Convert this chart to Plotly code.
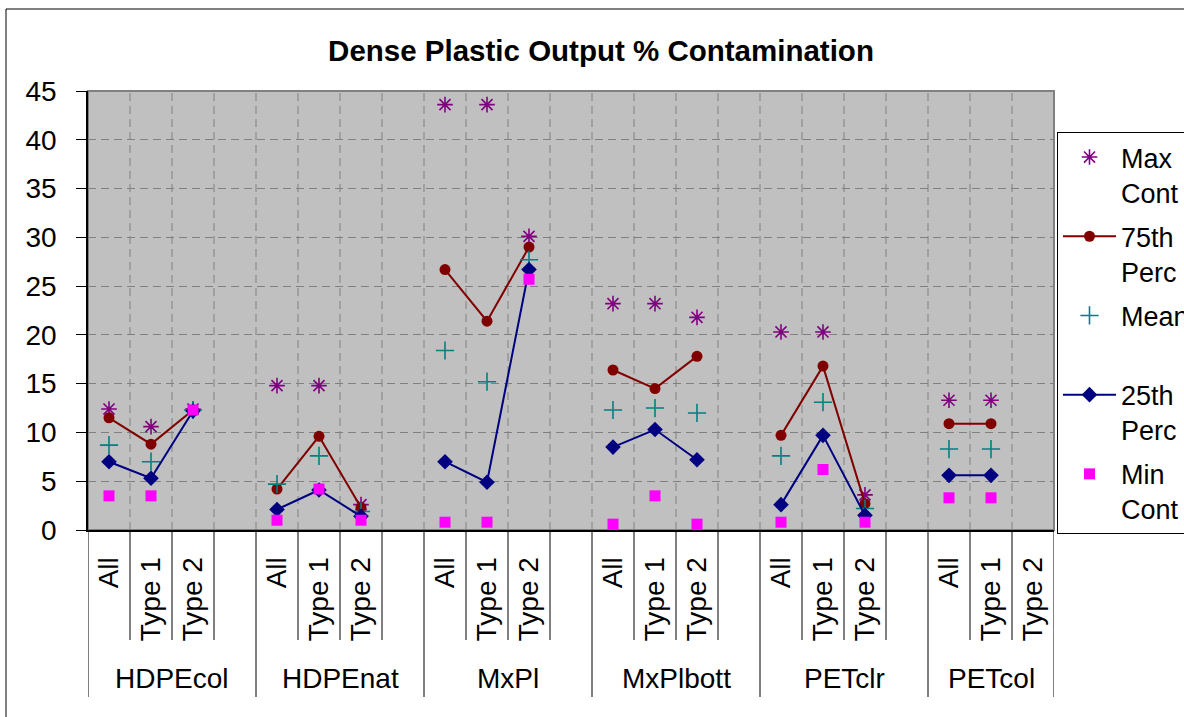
import plotly.graph_objects as go

# ---- data ----
groups = ["HDPEcol", "HDPEnat", "MxPl", "MxPlbott", "PETclr", "PETcol"]
subs = ["All", "Type 1", "Type 2"]

# values per group, in order All, Type 1, Type 2 (None = no data)
max_cont = [[12.4, 10.6, 12.4], [14.8, 14.8, 2.6], [43.6, 43.6, 30.1],
            [23.2, 23.2, 21.8], [20.3, 20.3, 3.6], [13.3, 13.3, None]]
perc75 = [[11.5, 8.8, 12.3], [4.2, 9.6, 2.3], [26.7, 21.4, 29.0],
          [16.4, 14.5, 17.8], [9.7, 16.8, 2.7], [10.9, 10.9, None]]
mean = [[8.7, 7.0, 12.3], [4.7, 7.6, 1.9], [18.4, 15.2, 27.7],
        [12.3, 12.5, 12.0], [7.6, 13.1, 2.2], [8.3, 8.3, None]]
perc25 = [[7.0, 5.3, 12.2], [2.1, 4.1, 1.4], [7.0, 4.9, 26.7],
          [8.5, 10.3, 7.2], [2.6, 9.7, 1.5], [5.6, 5.6, None]]
min_cont = [[3.5, 3.5, 12.3], [1.0, 4.2, 1.0], [0.8, 0.8, 25.7],
            [0.6, 3.5, 0.6], [0.8, 6.2, 0.8], [3.3, 3.3, None]]
y_ticks = [0, 5, 10, 15, 20, 25, 30, 35, 40, 45]

# ---- build category slots: each group has 3 subs + one empty slot (except last) ----
slot = len(subs) + 1
n_slots = len(groups) * slot - 1
centers = [g * slot + s for g in range(len(groups)) for s in range(len(subs))]
ticktext = [s for g in groups for s in subs]


def flat(series):
    ys = [None] * n_slots
    for g, vals in enumerate(series):
        for s, v in enumerate(vals):
            ys[g * slot + s] = v
    return ys


xs = list(range(n_slots))

FONT = "Liberation Sans, Arial, sans-serif"
fig = go.Figure()

fig.add_trace(go.Scatter(
    x=xs, y=flat(max_cont), mode="markers", name="Max<br>Cont", legendgroup="a",
    marker=dict(symbol="asterisk-open", size=13, color="#800080",
                line=dict(color="#800080", width=1.6))))
fig.add_trace(go.Scatter(
    x=xs, y=flat(perc75), mode="lines+markers", name="75th<br>Perc", legendgroup="b",
    line=dict(color="#800000", width=2), connectgaps=False,
    marker=dict(symbol="circle", size=11, color="#800000")))
fig.add_trace(go.Scatter(
    x=xs, y=flat(mean), mode="markers", name="Mean<br>\u00a0", legendgroup="c",
    marker=dict(symbol="cross-thin-open", size=13, color="#008080",
                line=dict(color="#008080", width=1.6))))
fig.add_trace(go.Scatter(
    x=xs, y=flat(perc25), mode="lines+markers", name="25th<br>Perc", legendgroup="d",
    line=dict(color="#000080", width=2), connectgaps=False,
    marker=dict(symbol="diamond", size=12, color="#000080")))
fig.add_trace(go.Scatter(
    x=xs, y=flat(min_cont), mode="markers", name="Min<br>Cont", legendgroup="e",
    marker=dict(symbol="square", size=11, color="#FF00FF")))

# ---- layout geometry ----
W, H = 1184, 717
L, R, T, B = 88, 130, 91, 187
ph = H - T - B


def py(pix):
    """pixel row -> paper y"""
    return (H - B - pix) / ph


def px(pix):
    pw = W - L - R
    return (pix - L) / pw


shapes = []
# plot frame (gray top/right)
shapes.append(dict(type="rect", xref="paper", yref="paper", x0=0, x1=1, y0=0, y1=1,
                   line=dict(color="#808080", width=2), layer="below"))
# vertical dashed gridlines at category boundaries
for i in range(1, n_slots):
    shapes.append(dict(type="line", xref="x", yref="paper", x0=i - 0.5, x1=i - 0.5,
                       y0=0, y1=1, line=dict(color="#808080", width=1, dash="8px,5px"),
                       layer="below"))
# separators under the axis
group_bounds = [g * slot - 0.5 for g in range(len(groups))] + [n_slots - 0.5]
for i in range(0, n_slots + 1):
    b = i - 0.5
    y_end = py(697) if b in group_bounds else py(640)
    shapes.append(dict(type="line", xref="x", yref="paper", x0=b, x1=b,
                       y0=0, y1=y_end, line=dict(color="#000000", width=1)))
# outer chart border
shapes.append(dict(type="rect", xref="paper", yref="paper", x0=px(6), x1=px(1300),
                   y0=py(900), y1=py(9), line=dict(color="#000000", width=1)))

annotations = []
for g, name in enumerate(groups):
    first = g * slot - 0.5
    last = min(g * slot + slot - 0.5, n_slots - 0.5)
    annotations.append(dict(x=(first + last) / 2, y=py(678), xref="x", yref="paper",
                            text=name, showarrow=False, xanchor="center", yanchor="middle",
                            font=dict(family=FONT, size=28, color="black")))

fig.update_layout(
    width=W, height=H,
    margin=dict(l=L, r=R, t=T, b=B, autoexpand=False),
    paper_bgcolor="white", plot_bgcolor="#C0C0C0",
    title=dict(text="<b>Dense Plastic Output % Contamination</b>", x=601 / W, xanchor="center",
               y=1 - 51 / H, yanchor="middle", font=dict(family=FONT, size=29.5, color="black")),
    xaxis=dict(range=[-0.5, n_slots - 0.5], tickvals=centers, ticktext=ticktext,
               tickangle=-90, showgrid=False, zeroline=False, showline=True,
               linecolor="black", linewidth=2, ticks="", ticklabelstandoff=14,
               tickfont=dict(family=FONT, size=28, color="black")),
    yaxis=dict(range=[0, 45], tickvals=y_ticks, showgrid=True, gridcolor="#808080",
               griddash="8px,5px", gridwidth=1, zeroline=False, showline=True,
               linecolor="black", linewidth=1.5, ticks="outside", ticklen=10,
               tickcolor="black", ticklabelstandoff=14,
               tickfont=dict(family=FONT, size=28, color="black")),
    legend=dict(x=px(1057), y=py(132), xanchor="left", yanchor="top", valign="top",
                bgcolor="white", bordercolor="black", borderwidth=1,
                font=dict(family=FONT, size=27, color="black"), tracegroupgap=6,
                itemwidth=53),
    shapes=shapes, annotations=annotations, showlegend=True,
)

fig.write_html("out.html")
